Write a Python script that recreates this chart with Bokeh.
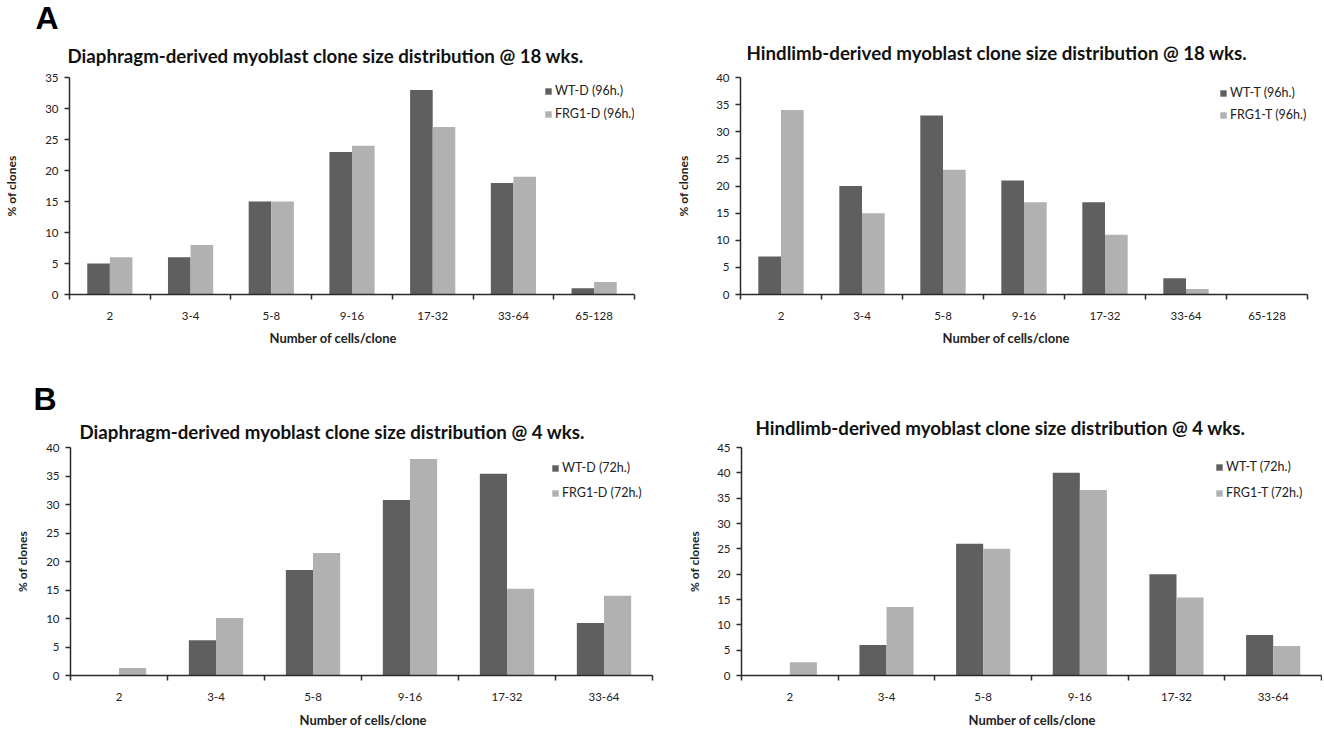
from bokeh.plotting import figure
from bokeh.layouts import column, row
from bokeh.models import (ColumnDataSource, Range1d, FixedTicker, SingleIntervalTicker,
                          Legend, LegendItem, Title)
from bokeh.transform import dodge
from bokeh.embed import file_html
from bokeh.resources import INLINE

# ---------------- data ----------------
cats_18 = ["2", "3-4", "5-8", "9-16", "17-32", "33-64", "65-128"]
diaph18_wt = [5, 6, 15, 23, 33, 18, 1]
diaph18_frg = [6, 8, 15, 24, 27, 19, 2]
hind18_wt = [7, 20, 33, 21, 17, 3, 0]
hind18_frg = [34, 15, 23, 17, 11, 1, 0]

cats_4 = ["2", "3-4", "5-8", "9-16", "17-32", "33-64"]
diaph4_wt = [0, 6.2, 18.5, 30.8, 35.4, 9.2]
diaph4_frg = [1.3, 10.1, 21.5, 38.0, 15.2, 14.0]
hind4_wt = [0, 6.0, 26.0, 40.0, 20.0, 8.0]
hind4_frg = [2.6, 13.5, 25.0, 36.6, 15.4, 5.8]

titles = [
    "Diaphragm-derived myoblast clone size distribution @ 18 wks.",
    "Hindlimb-derived myoblast clone size distribution @ 18 wks.",
    "Diaphragm-derived myoblast clone size distribution @ 4 wks.",
    "Hindlimb-derived myoblast clone size distribution @ 4 wks.",
]
legend_names = [
    ("WT-D (96h.)", "FRG1-D (96h.)"),
    ("WT-T (96h.)", "FRG1-T (96h.)"),
    ("WT-D (72h.)", "FRG1-D (72h.)"),
    ("WT-T (72h.)", "FRG1-T (72h.)"),
]
y_max = [35, 40, 40, 45]
panel_letters = ["A", None, "B", None]
y_title = "% of clones"
x_title = "Number of cells/clone"

DARK = "#5f5f5f"
LIGHT = "#b1b1b1"
AXIS = "#2a2a2a"
FONT = "Lato"


def make_panel(cats, wt, frg, title, names, ymax, letter, geom):
    (w, h, bl, br, bt, bb, title_off, title_sf, ylab_sf, xlab_off, xlab_sf,
     letter_off, letter_sf, leg_xy, leg_sp) = geom
    n = len(cats)
    centers = [i + 0.5 for i in range(n)]
    src = ColumnDataSource(dict(x=centers, wt=wt, frg=frg, cat=cats))
    p = figure(width=w, height=h, output_backend="svg", toolbar_location=None,
               x_range=Range1d(0, n), y_range=Range1d(0, ymax),
               min_border_left=bl, min_border_right=br, min_border_top=bt,
               min_border_bottom=bb)
    p.outline_line_color = None
    p.xgrid.visible = False
    p.ygrid.visible = False
    p.background_fill_color = "white"
    p.border_fill_color = "white"

    r1 = p.vbar(x=dodge("x", -0.14, range=p.x_range), top="wt", width=0.28,
                source=src, fill_color=DARK, line_color=None)
    r2 = p.vbar(x=dodge("x", 0.14, range=p.x_range), top="frg", width=0.28,
                source=src, fill_color=LIGHT, line_color=None)

    # x axis: labels at category centres, tick marks at boundaries
    xa = p.xaxis[0]
    xa.ticker = FixedTicker(ticks=centers, minor_ticks=list(range(n + 1)))
    xa.major_label_overrides = {c: lab for c, lab in zip(centers, cats)}
    xa.major_tick_out = 0
    xa.major_tick_in = 0
    xa.minor_tick_out = 5
    xa.minor_tick_in = 0
    xa.minor_tick_line_color = AXIS
    xa.minor_tick_line_width = 1.5
    xa.axis_line_color = AXIS
    xa.axis_line_width = 1.5
    xa.major_label_standoff = 12
    xa.major_label_text_font = FONT
    xa.major_label_text_font_size = "11.5px"
    xa.major_label_text_color = "#222222"

    ya = p.yaxis[0]
    ya.ticker = SingleIntervalTicker(interval=5, num_minor_ticks=0)
    ya.major_tick_out = 5
    ya.major_tick_in = 0
    ya.major_tick_line_color = AXIS
    ya.major_tick_line_width = 1.5
    ya.minor_tick_line_color = None
    ya.axis_line_color = AXIS
    ya.axis_line_width = 1.5
    ya.major_label_standoff = 6
    ya.major_label_text_font = FONT
    ya.major_label_text_font_size = "11.5px"
    ya.major_label_text_color = "#222222"
    ya.axis_label = y_title
    ya.axis_label_text_font = FONT
    ya.axis_label_text_font_size = "12px"
    ya.axis_label_text_font_style = "bold"
    ya.axis_label_text_color = "#222222"
    ya.axis_label_standoff = ylab_sf

    # legend
    leg = Legend(items=[LegendItem(label=names[0], renderers=[r1]),
                        LegendItem(label=names[1], renderers=[r2])],
                 location=leg_xy, orientation="vertical",
                 glyph_width=8, glyph_height=8, label_height=14,
                 label_standoff=3, spacing=leg_sp, padding=0, margin=0,
                 border_line_color=None, background_fill_alpha=0,
                 label_text_font=FONT, label_text_font_size="12.5px",
                 label_text_color="#222222")
    p.add_layout(leg)

    # chart title
    p.add_layout(Title(text=title, align="left", offset=title_off, standoff=title_sf,
                       text_font=FONT, text_font_size="18.7px", text_font_style="bold",
                       text_color="#111111"), "above")
    # panel letter
    if letter:
        p.add_layout(Title(text=letter, align="left", offset=letter_off, standoff=letter_sf,
                           text_font="Liberation Sans", text_font_size="32px",
                           text_font_style="bold", text_color="black"), "above")
    # x axis title
    p.add_layout(Title(text=x_title, align="left", offset=xlab_off, standoff=xlab_sf,
                       text_font=FONT, text_font_size="13px", text_font_style="bold",
                       text_color="#222222"), "below")
    return p


geoms = [
    # w, h, bl, br, bt, bb, title_off, title_sf, ylab_sf, xlab_off, xlab_sf, letter_off, letter_sf, legend(bottom-left), spacing
    (662, 356, 69, 28, 77, 62, -2, 21, 23, 200, 10, -34, -6, (475, 173), 8),
    (660, 356, 78, 15, 77, 62, 6, 28, 22, 202, 10, 0, 0, (479, 172), 7),
    (662, 379, 70, 10, 91, 60, 9, 9, 13, 229, 13, -37, -4, (481, 175), 10),
    (660, 379, 79, 1, 91, 60, 14, 17, 12, 227, 13, 0, 0, (474, 175), 11),
]

p1 = make_panel(cats_18, diaph18_wt, diaph18_frg, titles[0], legend_names[0], y_max[0], panel_letters[0], geoms[0])
p2 = make_panel(cats_18, hind18_wt, hind18_frg, titles[1], legend_names[1], y_max[1], panel_letters[1], geoms[1])
p3 = make_panel(cats_4, diaph4_wt, diaph4_frg, titles[2], legend_names[2], y_max[2], panel_letters[2], geoms[2])
p4 = make_panel(cats_4, hind4_wt, hind4_frg, titles[3], legend_names[3], y_max[3], panel_letters[3], geoms[3])

layout = column(row(p1, p2), row(p3, p4))
open("out.html", "w").write(file_html(layout, INLINE))
